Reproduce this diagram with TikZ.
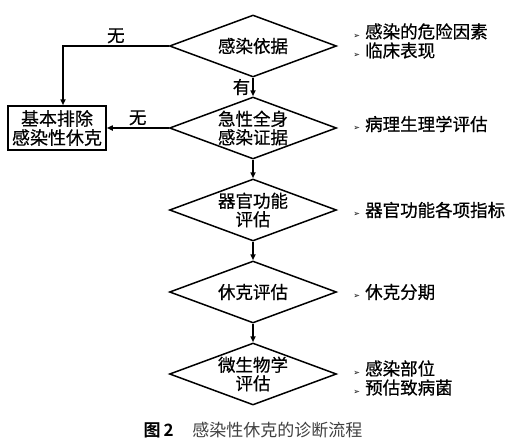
\documentclass[tikz,border=0pt]{standalone}
\usepackage{fontspec}
\newfontfamily\cjk{Noto Sans CJK SC}[BoldFont={Noto Sans CJK SC Bold}]
\newfontfamily\cjkdark{Noto Sans CJK SC}[FakeBold=0.6]
\newfontfamily\dingfont{DejaVu Sans}
\usetikzlibrary{arrows.meta,positioning,shapes.geometric}
\newcommand{\tip}{{\dingfont\fontsize{8pt}{8pt}\selectfont ➢}\hspace{5pt}}

\begin{document}
\begin{tikzpicture}[
    x=1pt, y=-1pt,
    node distance=18.5pt,
    decision/.style={diamond, draw=black, line width=1.5pt, inner sep=0pt,
                     minimum width=167pt, minimum height=62pt},
    dtext/.style={align=center, inner sep=0pt, font=\cjkdark\fontsize{17.5pt}{18.5pt}\selectfont},
    outcome/.style={rectangle, draw=black, line width=1.5pt, align=center, inner sep=3pt,
                    minimum width=98pt, minimum height=44pt, font=\cjkdark\fontsize{18pt}{19pt}\selectfont},
    note/.style={align=left, inner sep=0pt, font=\cjkdark\fontsize{17.5pt}{19pt}\selectfont},
    flow/.style={-{Triangle[length=6pt,width=5pt]}, line width=1.5pt},
    tag/.style={font=\cjkdark\fontsize{17.5pt}{19pt}\selectfont, inner sep=2pt}
]
\useasboundingbox (0,0) rectangle (526,447);

\node[decision, label={[dtext]center:感染依据}] (d1) at (253,46) {};
\node[decision, below=of d1, label={[dtext]center:{急性全身\\感染证据}}] (d2) {};
\node[decision, below=of d2, label={[dtext]center:{器官功能\\评估}}] (d3) {};
\node[decision, below=of d3, label={[dtext]center:休克评估}] (d4) {};
\node[decision, below=of d4, label={[dtext]center:{微生物学\\评估}}] (d5) {};

\node[outcome, left=62pt of d2] (exclude) {基本排除\\感染性休克};

% notes on the right
\node[note, right=16pt of d1, yshift=5pt] (n1) {\tip 感染的危险因素\\\tip 临床表现};
\node[note, right=16pt of d2, yshift=4pt] (n2) {\tip 病理生理学评估};
\node[note, right=16pt of d3] (n3) {\tip 器官功能各项指标};
\node[note, right=16pt of d4] (n4) {\tip 休克分期};
\node[note, right=16pt of d5, yshift=-4pt] (n5) {\tip 感染部位\\\tip 预估致病菌};

\draw[flow] (d1.west) -| node[tag, above, pos=0.25] {无} ([xshift=6pt]exclude.north);
\draw[flow] (d2.west) -- node[tag, above] {无} (exclude.east);
\draw[flow] (d1.south) -- node[tag, left] {有} (d2.north);
\draw[flow] (d2.south) -- (d3.north);
\draw[flow] (d3.south) -- (d4.north);
\draw[flow] (d4.south) -- (d5.north);

\node[below=13pt of d5, font=\cjk\fontsize{17pt}{18pt}\selectfont, text=black!75] (caption)
    {{\bfseries\color{black} 图\,2}\hspace{1.1em}感染性休克的诊断流程};
\end{tikzpicture}
\end{document}
